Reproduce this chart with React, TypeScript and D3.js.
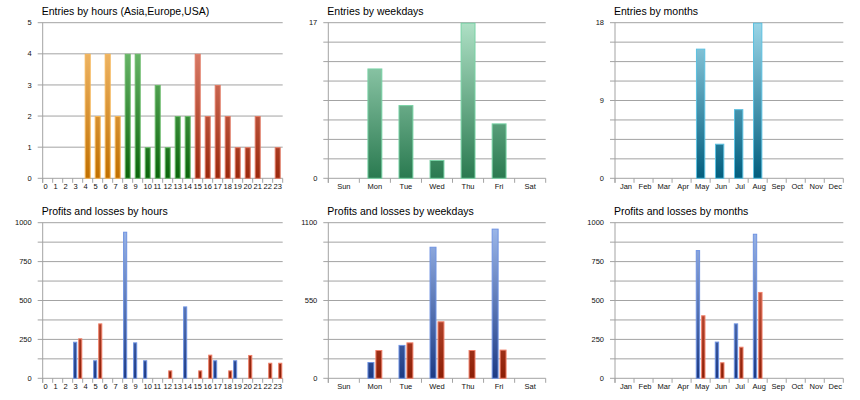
import React from 'react';
import * as d3 from 'd3';

// categories
const hourLabels = ['0', '1', '2', '3', '4', '5', '6', '7', '8', '9', '10', '11', '12', '13', '14', '15', '16', '17', '18', '19', '20', '21', '22', '23'];
const hourRegions = [
  'Asia', 'Asia', 'Asia', 'Asia', 'Asia', 'Asia', 'Asia', 'Asia',
  'Europe', 'Europe', 'Europe', 'Europe', 'Europe', 'Europe', 'Europe',
  'USA', 'USA', 'USA', 'USA', 'USA', 'USA', 'USA', 'USA', 'USA',
];
const weekdays = ['Sun', 'Mon', 'Tue', 'Wed', 'Thu', 'Fri', 'Sat'];
const months = ['Jan', 'Feb', 'Mar', 'Apr', 'May', 'Jun', 'Jul', 'Aug', 'Sep', 'Oct', 'Nov', 'Dec'];

// entries
const entriesByHour = [0, 0, 0, 0, 4, 2, 4, 2, 4, 4, 1, 3, 1, 2, 2, 4, 2, 3, 2, 1, 1, 2, 0, 1];
const entriesByWeekday = [0, 12, 8, 2, 17, 6, 0];
const entriesByMonth = [0, 0, 0, 0, 15, 4, 8, 18, 0, 0, 0, 0];

// profits / losses
const profitsByHour = [0, 0, 0, 235, 0, 116, 0, 0, 942, 231, 116, 0, 0, 0, 462, 0, 0, 116, 0, 116, 0, 0, 0, 0];
const lossesByHour = [0, 0, 0, 257, 0, 353, 0, 0, 0, 0, 0, 0, 51, 0, 0, 51, 152, 0, 51, 0, 150, 0, 100, 100];
const profitsByWeekday = [0, 115, 236, 930, 0, 1058, 0];
const lossesByWeekday = [0, 200, 254, 403, 200, 203, 0];
const profitsByMonth = [0, 0, 0, 0, 824, 236, 353, 929, 0, 0, 0, 0];
const lossesByMonth = [0, 0, 0, 0, 405, 103, 203, 555, 0, 0, 0, 0];

// y tick labels
const hourEntryTicks = [0, 1, 2, 3, 4, 5];
const weekdayEntryTicks = [0, 17];
const monthEntryTicks = [0, 9, 18];
const profitTicks = [0, 250, 500, 750, 1000];
const weekdayProfitTicks = [0, 550, 1100];

const palettes = {
  Asia: { top: '#f8c47c', bottom: '#c06f00', stroke: '#f6b556' },
  Europe: { top: '#7fc87f', bottom: '#0a640a', stroke: '#68ba68' },
  USA: { top: '#e68e7c', bottom: '#9a280c', stroke: '#e27a64' },
  weekday: { top: '#aee0c5', bottom: '#2a7a50', stroke: '#78d2a5' },
  month: { top: '#9ad5e7', bottom: '#025e7e', stroke: '#5cc0e0' },
  profit: { top: '#a0bbec', bottom: '#1c3a84', stroke: '#6f93e2' },
  loss: { top: '#ec806a', bottom: '#8c1e05', stroke: '#f0806a' },
};

const FONT = '"Liberation Sans", Arial, sans-serif';
const GRID = '#a3a3a3';

type Series = { values: number[]; key: (i: number) => string };

type PanelProps = {
  id: string;
  title: string;
  x0: number;
  x1: number;
  y0: number;
  y1: number;
  categories: string[];
  yMax: number;
  gridCount: number;
  yTicks: number[];
  series: Series[];
  groupFrac: number;
  labelAnchor?: 'start' | 'middle';
  labelDx?: number;
};

const Panel = ({ id, title, x0, x1, y0, y1, categories, yMax, gridCount, yTicks, series, groupFrac, labelAnchor = 'middle', labelDx = 0 }: PanelProps) => {
  const x = d3.scaleBand<number>().domain(d3.range(categories.length)).range([x0, x1]);
  const y = d3.scaleLinear().domain([0, yMax]).range([y1, y0]);
  const grid = d3.range(gridCount + 1).map(i => (i * yMax) / gridCount);
  const bw = x.bandwidth();
  const groupW = bw * groupFrac;
  const gap = series.length > 1 ? 1 : 0;
  const barW = (groupW - gap * (series.length - 1)) / series.length;

  // which palettes this panel needs
  const keys = Array.from(new Set(series.flatMap(s => categories.map((_, i) => s.key(i)))));

  return (
    <g>
      <defs>
        {keys.map(k => (
          <linearGradient key={k} id={`${id}-${k}`} gradientUnits="userSpaceOnUse" x1={0} x2={0} y1={y0} y2={y1}>
            <stop offset="0%" stopColor={palettes[k].top} />
            <stop offset="100%" stopColor={palettes[k].bottom} />
          </linearGradient>
        ))}
      </defs>
      <text x={x0 - 1} y={y0 - 7.5} fontSize={10.5} fontFamily={FONT} fill="#000">{title}</text>

      {grid.map(v => (
        <line key={v} x1={x0 - 5} x2={x1} y1={y(v)} y2={y(v)} stroke={GRID} strokeWidth={1} />
      ))}
      <line x1={x0} x2={x0} y1={y0} y2={y1 + 4.5} stroke={GRID} />
      {d3.range(categories.length + 1).map(i => (
        <line key={i} x1={x0 + i * x.step()} x2={x0 + i * x.step()} y1={y1} y2={y1 + 4.5} stroke={GRID} />
      ))}

      {yTicks.map(v => (
        <text key={v} x={x0 - 11} y={y(v)} dy="0.35em" textAnchor="end" fontSize={7.5} fontFamily={FONT} fill="#111">{v}</text>
      ))}
      {categories.map((c, i) => (
        <text
          key={c}
          x={(labelAnchor === 'start' ? x(i)! + 0.8 : x(i)! + bw / 2) + labelDx}
          y={y1 + 11}
          textAnchor={labelAnchor}
          fontSize={7.5}
          fontFamily={FONT}
          fill="#111"
        >{c}</text>
      ))}

      {series.map((s, j) => s.values.map((v, i) => {
        if (!v) return null;
        const k = s.key(i);
        const bx = x(i)! + (bw - groupW) / 2 + j * (barW + gap);
        return (
          <rect
            key={`${j}-${i}`}
            x={bx + 0.5}
            y={y(v) + 0.5}
            width={Math.max(barW - 1, 0.5)}
            height={y1 - y(v) - 0.5}
            fill={`url(#${id}-${k})`}
            stroke={palettes[k].stroke}
            strokeWidth={1}
          />
        );
      }))}
    </g>
  );
};

const cols = [
  { x0: 42.7, x1: 282.7 },
  { x0: 328.3, x1: 545.7 },
  { x0: 615, x1: 843.3 },
];
const rows = [
  { y0: 22.7, y1: 178.3 },
  { y0: 222.7, y1: 378.3 },
];

const App = () => (
  <svg width={860} height={400} style={{ position: 'absolute', left: 0, top: 0, background: '#fff' }}>
    <Panel
      id="eh" title="Entries by hours (Asia,Europe,USA)" {...cols[0]} {...rows[0]}
      categories={hourLabels} yMax={5} gridCount={5} yTicks={hourEntryTicks}
      series={[{ values: entriesByHour, key: i => hourRegions[i] }]}
      groupFrac={0.6} labelAnchor="start"
    />
    <Panel
      id="ew" title="Entries by weekdays" {...cols[1]} {...rows[0]}
      categories={weekdays} yMax={17} gridCount={8} yTicks={weekdayEntryTicks}
      series={[{ values: entriesByWeekday, key: () => 'weekday' }]}
      groupFrac={0.48}
    />
    <Panel
      id="em" title="Entries by months" {...cols[2]} {...rows[0]}
      categories={months} yMax={18} gridCount={8} yTicks={monthEntryTicks}
      series={[{ values: entriesByMonth, key: () => 'month' }]}
      groupFrac={0.49} labelDx={1.5}
    />
    <Panel
      id="ph" title="Profits and losses by hours" {...cols[0]} {...rows[1]}
      categories={hourLabels} yMax={1000} gridCount={8} yTicks={profitTicks}
      series={[
        { values: profitsByHour, key: () => 'profit' },
        { values: lossesByHour, key: () => 'loss' },
      ]}
      groupFrac={0.92} labelAnchor="start"
    />
    <Panel
      id="pw" title="Profits and losses by weekdays" {...cols[1]} {...rows[1]}
      categories={weekdays} yMax={1100} gridCount={8} yTicks={weekdayProfitTicks}
      series={[
        { values: profitsByWeekday, key: () => 'profit' },
        { values: lossesByWeekday, key: () => 'loss' },
      ]}
      groupFrac={0.48}
    />
    <Panel
      id="pm" title="Profits and losses by months" {...cols[2]} {...rows[1]}
      categories={months} yMax={1000} gridCount={8} yTicks={profitTicks}
      series={[
        { values: profitsByMonth, key: () => 'profit' },
        { values: lossesByMonth, key: () => 'loss' },
      ]}
      groupFrac={0.51} labelDx={1.5}
    />
  </svg>
);

export default App;
